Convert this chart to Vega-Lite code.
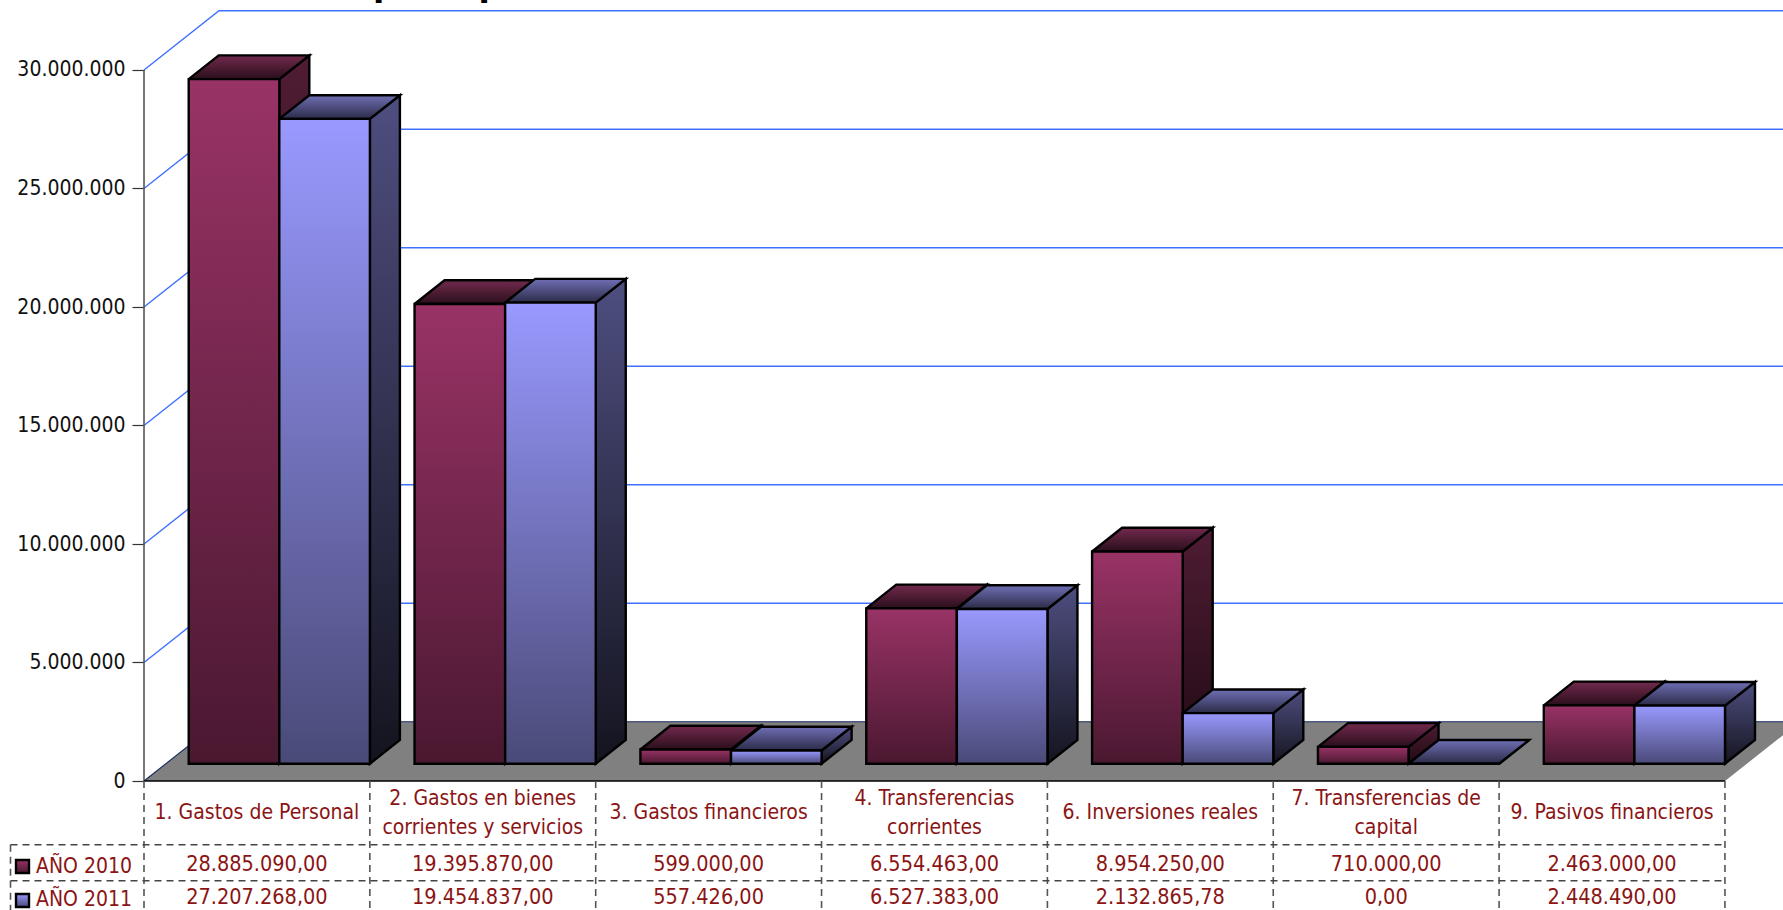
{"$schema":"https://vega.github.io/schema/vega-lite/v6.json","width":1639,"height":910,"autosize":{"type":"none"},"padding":{"left":144,"top":0,"right":0,"bottom":0},"background":"white","config":{"view":{"stroke":null}},"resolve":{"axis":{"y":"independent"}},"datasets":{"titulo":[{"titulo":"presupuesto"}],"barras":[{"orden":1,"capitulo":"1. Gastos de Personal","serie":"AÑO 2010","importe":28885090},{"orden":1,"capitulo":"1. Gastos de Personal","serie":"AÑO 2011","importe":27207268},{"orden":2,"capitulo":"2. Gastos en bienes\ncorrientes y servicios","serie":"AÑO 2010","importe":19395870},{"orden":2,"capitulo":"2. Gastos en bienes\ncorrientes y servicios","serie":"AÑO 2011","importe":19454837},{"orden":3,"capitulo":"3. Gastos financieros","serie":"AÑO 2010","importe":599000},{"orden":3,"capitulo":"3. Gastos financieros","serie":"AÑO 2011","importe":557426},{"orden":4,"capitulo":"4. Transferencias\ncorrientes","serie":"AÑO 2010","importe":6554463},{"orden":4,"capitulo":"4. Transferencias\ncorrientes","serie":"AÑO 2011","importe":6527383},{"orden":5,"capitulo":"6. Inversiones reales","serie":"AÑO 2010","importe":8954250},{"orden":5,"capitulo":"6. Inversiones reales","serie":"AÑO 2011","importe":2132865.78},{"orden":6,"capitulo":"7. Transferencias de\ncapital","serie":"AÑO 2010","importe":710000},{"orden":6,"capitulo":"7. Transferencias de\ncapital","serie":"AÑO 2011","importe":0},{"orden":7,"capitulo":"9. Pasivos financieros","serie":"AÑO 2010","importe":2463000},{"orden":7,"capitulo":"9. Pasivos financieros","serie":"AÑO 2011","importe":2448490}],"marcas":[{"marca":0},{"marca":5000000},{"marca":10000000},{"marca":15000000},{"marca":20000000},{"marca":25000000},{"marca":30000000}],"cortes":[{"corte":0},{"corte":1},{"corte":2},{"corte":3},{"corte":4},{"corte":5},{"corte":6},{"corte":7}],"series":[{"serie":"AÑO 2010","fila":1},{"serie":"AÑO 2011","fila":2}]},"layer":[
{"data":{"name":"marcas"},"transform":[{"filter":"datum.marca==0"},{"calculate":"[0,1,2,3]","as":"v"},{"flatten":["v"]},{"calculate":"[0,75,1656,1581][datum.v]","as":"vx"},{"calculate":"[0,2500000,2500000,0][datum.v]","as":"vy"}],"mark":{"type":"line","filled":true,"fill":"#808080","stroke":null},"encoding":{"x":{"field":"vx","type":"quantitative","scale":{"domain":[0,1639],"range":[0,1639],"nice":false,"zero":false},"axis":null},"y":{"field":"vy","type":"quantitative","scale":{"domain":[-5443038,32953586],"range":[910,0],"nice":false,"zero":false},"axis":null},"order":{"field":"v"}}},
{"data":{"name":"titulo"},"transform":[{"calculate":"229","as":"a"},{"calculate":"33140000","as":"fy"}],"mark":{"type":"text","align":"left","baseline":"alphabetic","font":"DejaVu Sans","fontWeight":"bold","fontSize":33,"fill":"#000000"},"encoding":{"x":{"field":"a","type":"quantitative","axis":null},"y":{"field":"fy","type":"quantitative","axis":null},"text":{"field":"titulo"}}},
{"data":{"name":"marcas"},"transform":[{"calculate":"[0,1,2]","as":"v"},{"flatten":["v"]},{"calculate":"[0,75,1656][datum.v]","as":"vx"},{"calculate":"datum.marca+[0,2500000,2500000][datum.v]","as":"vy"},{"filter":"datum.marca>0"}],"mark":{"type":"line","stroke":"#3f70ff","strokeWidth":1.4},"encoding":{"x":{"field":"vx","type":"quantitative","axis":null},"y":{"field":"vy","type":"quantitative","axis":null},"order":{"field":"v"},"detail":{"field":"marca"}}},
{"data":{"name":"marcas"},"transform":[{"filter":"datum.marca==0"},{"calculate":"[0,1,2]","as":"v"},{"flatten":["v"]},{"calculate":"[0,75,1656][datum.v]","as":"vx"},{"calculate":"[0,2500000,2500000][datum.v]","as":"vy"}],"mark":{"type":"line","stroke":"#1c2f63","strokeWidth":1.2},"encoding":{"x":{"field":"vx","type":"quantitative","axis":null},"y":{"field":"vy","type":"quantitative","axis":null},"order":{"field":"v"}}},
{"data":{"name":"marcas"},"mark":{"type":"line","stroke":"#555555","strokeWidth":1.6},"encoding":{"x":{"datum":0,"type":"quantitative","axis":null},"y":{"field":"marca","type":"quantitative","axis":{"values":[0,5000000,10000000,15000000,20000000,25000000,30000000],"domain":false,"grid":false,"title":null,"tickSize":12,"tickColor":"#333333","tickWidth":1.2,"labelFont":"DejaVu Sans Condensed","labelFontSize":21,"labelColor":"#111111","labelPadding":7,"labelExpr":"replace(format(datum.value,','),/,/g,'.')"}}}},
{"data":{"name":"barras"},"transform":[{"filter":"datum.serie=='AÑO 2010'"},{"calculate":"(datum.orden-1)*225.85+44.7+90.6","as":"x1"},{"calculate":"datum.importe+730000","as":"t"},{"calculate":"[0,1,2,3,4]","as":"v"},{"flatten":["v"]},{"calculate":"datum.x1+[0,30,30,0,0][datum.v]","as":"vx"},{"calculate":"[datum.t,datum.t+1000000,1730000,730000,datum.t][datum.v]","as":"vy"}],"mark":{"type":"line","filled":true,"stroke":"#000000","strokeWidth":2.4,"strokeJoin":"miter","fill":{"x1":0,"y1":0,"x2":0,"y2":1,"gradient":"linear","stops":[{"offset":0,"color":"#4f1c33"},{"offset":1,"color":"#200a14"}]}},"encoding":{"x":{"field":"vx","type":"quantitative","axis":null},"y":{"field":"vy","type":"quantitative","axis":null},"order":{"field":"v"},"detail":{"field":"orden"}}},
{"data":{"name":"barras"},"transform":[{"filter":"datum.serie=='AÑO 2011'"},{"calculate":"(datum.orden-1)*225.85+44.7+181.2","as":"x1"},{"calculate":"datum.importe+730000","as":"t"},{"calculate":"[0,1,2,3,4]","as":"v"},{"flatten":["v"]},{"calculate":"datum.x1+[0,30,30,0,0][datum.v]","as":"vx"},{"calculate":"[datum.t,datum.t+1000000,1730000,730000,datum.t][datum.v]","as":"vy"}],"mark":{"type":"line","filled":true,"stroke":"#000000","strokeWidth":2.4,"strokeJoin":"miter","fill":{"x1":0,"y1":0,"x2":0,"y2":1,"gradient":"linear","stops":[{"offset":0,"color":"#4e4e80"},{"offset":1,"color":"#14141f"}]}},"encoding":{"x":{"field":"vx","type":"quantitative","axis":null},"y":{"field":"vy","type":"quantitative","axis":null},"order":{"field":"v"},"detail":{"field":"orden"}}},
{"data":{"name":"barras"},"transform":[{"filter":"datum.serie=='AÑO 2010'"},{"calculate":"(datum.orden-1)*225.85+44.7","as":"x0"},{"calculate":"datum.importe+730000","as":"t"},{"calculate":"[0,1,2,3,4]","as":"v"},{"flatten":["v"]},{"calculate":"datum.x0+[0,90.6,120.6,30,0][datum.v]","as":"vx"},{"calculate":"datum.t+[0,0,1000000,1000000,0][datum.v]","as":"vy"}],"mark":{"type":"line","filled":true,"stroke":"#000000","strokeWidth":2.4,"strokeJoin":"miter","fill":{"x1":0,"y1":1,"x2":0,"y2":0,"gradient":"linear","stops":[{"offset":0,"color":"#2a0e1c"},{"offset":1,"color":"#722a4d"}]}},"encoding":{"x":{"field":"vx","type":"quantitative","axis":null},"y":{"field":"vy","type":"quantitative","axis":null},"order":{"field":"v"},"detail":{"field":"orden"}}},
{"data":{"name":"barras"},"transform":[{"filter":"datum.serie=='AÑO 2011'"},{"calculate":"(datum.orden-1)*225.85+44.7+90.6","as":"x0"},{"calculate":"datum.importe+730000","as":"t"},{"calculate":"[0,1,2,3,4]","as":"v"},{"flatten":["v"]},{"calculate":"datum.x0+[0,90.6,120.6,30,0][datum.v]","as":"vx"},{"calculate":"datum.t+[0,0,1000000,1000000,0][datum.v]","as":"vy"}],"mark":{"type":"line","filled":true,"stroke":"#000000","strokeWidth":2.4,"strokeJoin":"miter","fill":{"x1":0,"y1":1,"x2":0,"y2":0,"gradient":"linear","stops":[{"offset":0,"color":"#2b2b47"},{"offset":1,"color":"#6f6fb5"}]}},"encoding":{"x":{"field":"vx","type":"quantitative","axis":null},"y":{"field":"vy","type":"quantitative","axis":null},"order":{"field":"v"},"detail":{"field":"orden"}}},
{"data":{"name":"barras"},"transform":[{"filter":"datum.serie=='AÑO 2010'"},{"calculate":"(datum.orden-1)*225.85+44.7","as":"x0"},{"calculate":"datum.x0+90.6","as":"x1"},{"calculate":"datum.importe+730000","as":"t"},{"calculate":"730000","as":"b"}],"mark":{"type":"rect","stroke":"#000000","strokeWidth":2.4,"fill":{"x1":0,"y1":0,"x2":0,"y2":1,"gradient":"linear","stops":[{"offset":0,"color":"#993366"},{"offset":1,"color":"#4a1830"}]}},"encoding":{"x":{"field":"x0","type":"quantitative","axis":null},"x2":{"field":"x1"},"y":{"field":"t","type":"quantitative","axis":null},"y2":{"field":"b"}}},
{"data":{"name":"barras"},"transform":[{"filter":"datum.serie=='AÑO 2011'"},{"calculate":"(datum.orden-1)*225.85+44.7+90.6","as":"x0"},{"calculate":"datum.x0+90.6","as":"x1"},{"calculate":"datum.importe+730000","as":"t"},{"calculate":"730000","as":"b"}],"mark":{"type":"rect","stroke":"#000000","strokeWidth":2.4,"fill":{"x1":0,"y1":0,"x2":0,"y2":1,"gradient":"linear","stops":[{"offset":0,"color":"#9999ff"},{"offset":1,"color":"#4a4a78"}]}},"encoding":{"x":{"field":"x0","type":"quantitative","axis":null},"x2":{"field":"x1"},"y":{"field":"t","type":"quantitative","axis":null},"y2":{"field":"b"}}},
{"data":{"name":"marcas"},"transform":[{"filter":"datum.marca==0"}],"mark":{"type":"rule","stroke":"#000000","strokeWidth":1.5},"encoding":{"x":{"datum":0,"type":"quantitative","axis":null},"x2":{"datum":1581},"y":{"field":"marca","type":"quantitative","axis":null}}},
{"data":{"name":"cortes"},"transform":[{"calculate":"datum.corte*225.85","as":"cx"},{"calculate":"0","as":"a"},{"calculate":"-5443038","as":"z"}],"mark":{"type":"rule","stroke":"#555555","strokeWidth":1.6,"strokeDash":[7,5]},"encoding":{"x":{"field":"cx","type":"quantitative","axis":null},"y":{"field":"a","type":"quantitative","axis":null},"y2":{"field":"z"}}},
{"data":{"name":"series"},"transform":[{"calculate":"datum.fila==1?-2687000:-4207000","as":"fy"},{"calculate":"-133.5","as":"a"},{"calculate":"1581","as":"z"}],"mark":{"type":"rule","stroke":"#444444","strokeWidth":1.6,"strokeDash":[7,5]},"encoding":{"x":{"field":"a","type":"quantitative","axis":null},"x2":{"field":"z"},"y":{"field":"fy","type":"quantitative","axis":null}}},
{"data":{"name":"series"},"transform":[{"filter":"datum.fila==1"},{"calculate":"-133.5","as":"a"},{"calculate":"-2687000","as":"y0"},{"calculate":"-5443038","as":"y1"}],"mark":{"type":"rule","stroke":"#555555","strokeWidth":1.6,"strokeDash":[7,5]},"encoding":{"x":{"field":"a","type":"quantitative","axis":null},"y":{"field":"y0","type":"quantitative","axis":null},"y2":{"field":"y1"}}},
{"data":{"name":"series"},"transform":[{"filter":"datum.fila==1"},{"calculate":"-128","as":"a"},{"calculate":"-115","as":"b"},{"calculate":"-3333000","as":"y0"},{"calculate":"-3882000","as":"y1"}],"mark":{"type":"rect","stroke":"#000000","strokeWidth":2.4,"fill":{"x1":0,"y1":0,"x2":0,"y2":1,"gradient":"linear","stops":[{"offset":0,"color":"#993366"},{"offset":1,"color":"#4a1830"}]}},"encoding":{"x":{"field":"a","type":"quantitative","axis":null},"x2":{"field":"b"},"y":{"field":"y0","type":"quantitative","axis":null},"y2":{"field":"y1"}}},
{"data":{"name":"series"},"transform":[{"filter":"datum.fila==2"},{"calculate":"-128","as":"a"},{"calculate":"-115","as":"b"},{"calculate":"-4768000","as":"y0"},{"calculate":"-5316000","as":"y1"}],"mark":{"type":"rect","stroke":"#000000","strokeWidth":2.4,"fill":{"x1":0,"y1":0,"x2":0,"y2":1,"gradient":"linear","stops":[{"offset":0,"color":"#9999ff"},{"offset":1,"color":"#4a4a78"}]}},"encoding":{"x":{"field":"a","type":"quantitative","axis":null},"x2":{"field":"b"},"y":{"field":"y0","type":"quantitative","axis":null},"y2":{"field":"y1"}}},
{"data":{"name":"series"},"transform":[{"calculate":"-108","as":"a"},{"calculate":"datum.fila==1?-3629000:-5021000","as":"fy"}],"mark":{"type":"text","align":"left","baseline":"middle","font":"DejaVu Sans Condensed","fontSize":21,"fill":"#8b1414"},"encoding":{"x":{"field":"a","type":"quantitative","axis":null},"y":{"field":"fy","type":"quantitative","axis":null},"text":{"field":"serie"}}},
{"data":{"name":"barras"},"transform":[{"calculate":"(datum.orden-0.5)*225.85","as":"cx"},{"calculate":"datum.serie=='AÑO 2010'?-3544000:-4937000","as":"fy"},{"calculate":"replace(replace(replace(format(datum.importe,',.2f'),/,/g,'#'),'.',','),/#/g,'.')","as":"texto"}],"mark":{"type":"text","align":"center","baseline":"middle","font":"DejaVu Sans Condensed","fontSize":21.5,"fill":"#8b1414"},"encoding":{"x":{"field":"cx","type":"quantitative","axis":null},"y":{"field":"fy","type":"quantitative","axis":null},"text":{"field":"texto"}}},
{"data":{"name":"barras"},"transform":[{"filter":"datum.serie=='AÑO 2010'"},{"calculate":"(datum.orden-0.5)*225.85","as":"cx"},{"calculate":"indexof(datum.capitulo,'\\n')>=0?-760000:-1350000","as":"fy"}],"mark":{"type":"text","align":"center","baseline":"middle","lineBreak":"\n","lineHeight":28.5,"font":"DejaVu Sans Condensed","fontSize":21,"fill":"#8b1414"},"encoding":{"x":{"field":"cx","type":"quantitative","axis":null},"y":{"field":"fy","type":"quantitative","axis":null},"text":{"field":"capitulo"}}}
]}
